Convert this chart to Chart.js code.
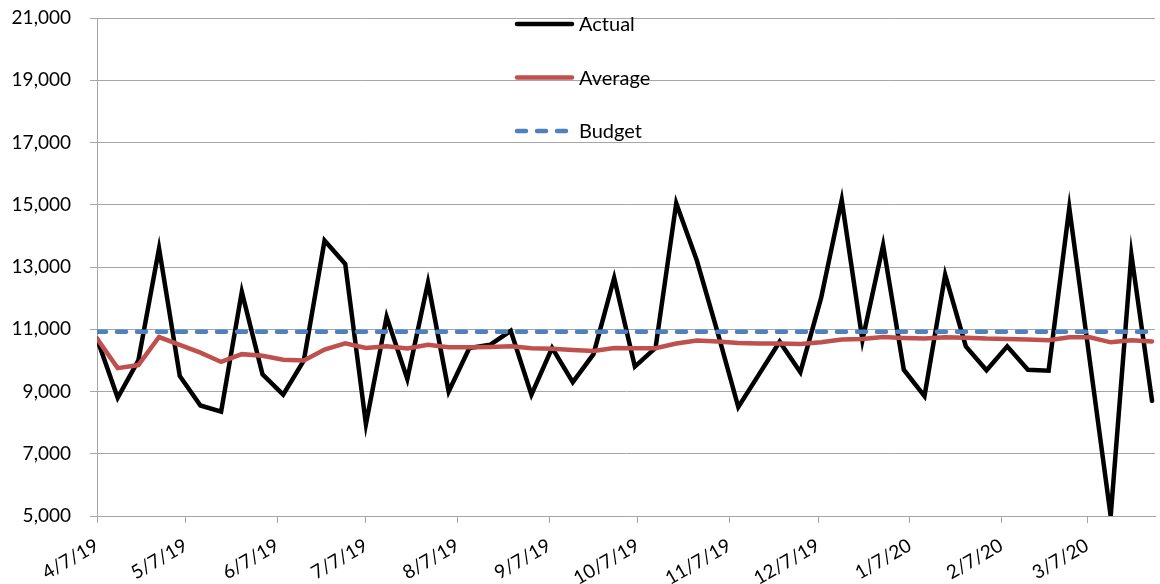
<!DOCTYPE html>
<html>
<head>
    <meta charset="utf-8">
    <title>Actual vs Average vs Budget</title>
    <script src="https://cdn.jsdelivr.net/npm/chart.js@4.4.1/dist/chart.umd.min.js"></script>
    <style>
        html, body { margin: 0; padding: 0; background: #fff; }
    </style>
</head>
<body>
    <canvas id="myChart" width="1160" height="584"></canvas>
    <script>
        // weekly figures, first week starting 4/7/19
        var firstWeek = '4/7/19';
        var actual = [10700, 8800, 10000, 13600, 9500, 8550, 8350, 12200, 9550, 8900,
                      10000, 13850, 13100, 7950, 11400, 9400, 12500, 9000, 10400, 10500,
                      10950, 8900, 10400, 9300, 10200, 12650, 9800, 10400, 15050, 13200,
                      10900, 8500, 9550, 10600, 9620, 12000, 15150, 10650, 13700, 9700,
                      8850, 12750, 10450, 9680, 10450, 9700, 9670, 14900, 9950, 5000,
                      13400, 8700];
        var average = [10700, 9750, 9850, 10750, 10500, 10250, 9950, 10200, 10150, 10020,
                       10000, 10350, 10550, 10400, 10450, 10380, 10500, 10420, 10420, 10430,
                       10450, 10390, 10370, 10330, 10300, 10400, 10390, 10390, 10540, 10640,
                       10610, 10560, 10540, 10540, 10530, 10580, 10670, 10690, 10750, 10720,
                       10700, 10740, 10730, 10700, 10690, 10670, 10650, 10740, 10740, 10580,
                       10650, 10610];
        var budget = 10920;
        var tickLabels = ['4/7/19', '5/7/19', '6/7/19', '7/7/19', '8/7/19', '9/7/19',
                          '10/7/19', '11/7/19', '12/7/19', '1/7/20', '2/7/20', '3/7/20'];

        function dayOf(s) {
            var p = s.split('/');
            return Date.UTC(2000 + Number(p[2]), Number(p[0]) - 1, Number(p[1])) / 86400000;
        }
        var day0 = dayOf(firstWeek);
        var tickDays = tickLabels.map(function(l) { return dayOf(l) - day0; });

        function weekly(vals) {
            return vals.map(function(v, i) { return {x: i * 7, y: v}; });
        }

        var font = {family: 'Lato', size: 19};
        var gridColor = '#a6a6a6';

        // legend drawn inside the plot, stacked like the original
        var legendBox = {
            id: 'legendBox',
            afterDraw: function(chart) {
                var ctx = chart.ctx;
                chart.data.datasets.forEach(function(ds, i) {
                    var y = 24 + i * 53.5;
                    ctx.save();
                    ctx.strokeStyle = ds.borderColor;
                    ctx.lineWidth = ds.borderWidth;
                    ctx.lineCap = ds.borderCapStyle || 'butt';
                    ctx.setLineDash(ds.borderDash || []);
                    ctx.beginPath();
                    ctx.moveTo(517, y);
                    ctx.lineTo(572, y);
                    ctx.stroke();
                    ctx.setLineDash([]);
                    ctx.fillStyle = '#000';
                    ctx.font = '20px ' + font.family;
                    ctx.textBaseline = 'middle';
                    ctx.fillText(ds.label, 579, y + 1);
                    ctx.restore();
                });
            }
        };

        var chart = new Chart(document.getElementById('myChart'), {
            type: 'line',
            data: {
                datasets: [{
                    label: 'Actual',
                    data: weekly(actual),
                    borderColor: '#000000',
                    borderWidth: 4.5,
                    borderCapStyle: 'round',
                    order: 2
                }, {
                    label: 'Average',
                    data: weekly(average),
                    borderColor: '#c0504d',
                    borderWidth: 4.5,
                    borderCapStyle: 'round',
                    order: 1
                }, {
                    label: 'Budget',
                    data: weekly(actual.map(function() { return budget; })),
                    borderColor: '#4f81bd',
                    borderWidth: 4.5,
                    borderDash: [9, 11],
                    borderCapStyle: 'round',
                    order: 0
                }]
            },
            options: {
                responsive: false,
                animation: false,
                elements: {
                    point: {radius: 0},
                    line: {tension: 0, fill: false}
                },
                layout: {padding: {left: 0, right: 5, top: 18, bottom: 0}},
                plugins: {
                    legend: {display: false},
                    tooltip: {enabled: false}
                },
                scales: {
                    x: {
                        type: 'linear',
                        min: 0,
                        max: 358,
                        afterBuildTicks: function(axis) {
                            axis.ticks = tickDays.map(function(d) { return {value: d}; });
                        },
                        afterFit: function(axis) {
                            axis.height = 68;
                            axis.paddingLeft = 0;
                            axis.paddingRight = 0;
                        },
                        grid: {drawOnChartArea: false, color: gridColor, tickLength: 7},
                        border: {color: gridColor},
                        ticks: {
                            autoSkip: false,
                            minRotation: 30,
                            maxRotation: 30,
                            padding: 11,
                            color: '#000',
                            font: font,
                            callback: function(v) {
                                var k = tickDays.indexOf(v);
                                return k < 0 ? '' : tickLabels[k];
                            }
                        }
                    },
                    y: {
                        min: 5000,
                        max: 21000,
                        afterFit: function(axis) {
                            axis.width = 97;
                            axis.paddingTop = 0;
                            axis.paddingBottom = 0;
                        },
                        grid: {color: gridColor, tickLength: 7},
                        border: {color: gridColor},
                        ticks: {
                            stepSize: 2000,
                            padding: 19,
                            color: '#000',
                            font: font,
                            callback: function(v) { return v.toLocaleString('en-US'); }
                        }
                    }
                }
            },
            plugins: [legendBox]
        });
    </script>
</body>
</html>
